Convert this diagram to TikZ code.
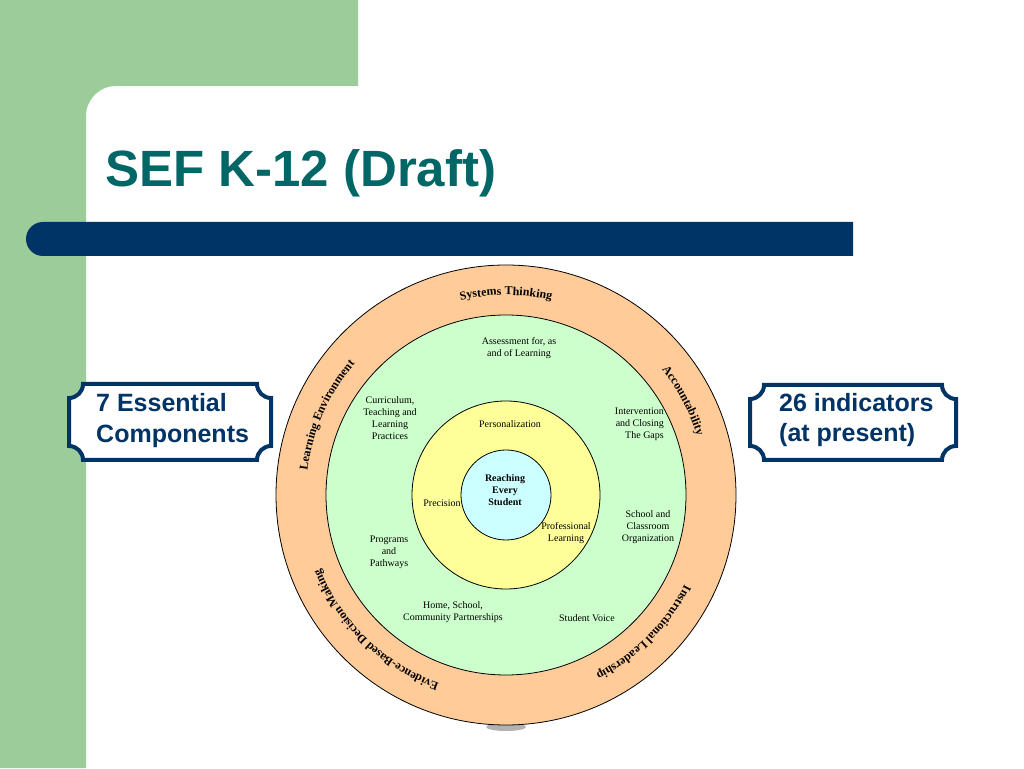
\documentclass[tikz,border=0pt]{standalone}
\usepackage{fontspec}
\setmainfont{Liberation Serif}
\newfontfamily\slidesans{Liberation Sans}
\usetikzlibrary{decorations.text}
\definecolor{greenbg}{RGB}{155,204,153}
\definecolor{navy}{RGB}{0,51,102}
\definecolor{teal}{RGB}{0,102,102}
\definecolor{ringorange}{RGB}{255,204,153}
\definecolor{ringgreen}{RGB}{204,255,204}
\definecolor{ringyellow}{RGB}{255,255,153}
\definecolor{ringblue}{RGB}{204,255,255}
\newcommand\ringlblfont{\fontsize{12}{14}\selectfont\bfseries}
\newcommand\plaque[4]{%
  \draw[callout] (#1+14,#4) -- (#3-14,#4)
    arc[start angle=180,end angle=270,radius=14pt] -- (#3,#2+14)
    arc[start angle=90,end angle=180,radius=14pt] -- (#1+14,#2)
    arc[start angle=0,end angle=90,radius=14pt] -- (#1,#4-14)
    arc[start angle=270,end angle=360,radius=14pt] -- cycle;}
\begin{document}
\begin{tikzpicture}[x=1pt,y=1pt,
  ring/.style={draw=black,line width=0.8pt},
  arclabel/.style={decorate,decoration={text along path,text align=center,text={|\ringlblfont|#1}}},
  inlabel/.style={font=\fontsize{10}{12}\selectfont,align=center,inner sep=0pt},
  callout/.style={draw=navy,line width=4pt,fill=white},
  calltext/.style={font=\slidesans\bfseries\fontsize{25}{30}\selectfont,text=navy,anchor=base west,inner sep=0pt}]
\useasboundingbox (0,0) rectangle (1024,768);
\fill[white] (0,0) rectangle (1024,768);
% green background band
\fill[greenbg] (0,768) -- (358,768) -- (358,682) -- (116,682)
  arc[start angle=90,end angle=180,radius=30pt] -- (86,0) -- (0,0) -- cycle;
% title
\node[font=\slidesans\bfseries\fontsize{51}{60}\selectfont,text=teal,anchor=base west,inner sep=0pt] (title) at (105,581) {SEF K-12 (Draft)};
% blue bar
\fill[navy] (853,546) -- (43,546) arc[start angle=90,end angle=270,radius=17pt] -- (853,512) -- cycle;
% rings
\coordinate (c) at (506,273);
\fill[gray!60] (506,41) ellipse[x radius=20pt,y radius=4pt];
\draw[ring,fill=ringorange] (c) circle[radius=230pt];
\draw[ring,fill=ringgreen] (c) circle[radius=180pt];
\draw[ring,fill=ringyellow] (c) circle[radius=94pt];
\draw[ring,fill=ringblue] (c) circle[radius=45pt];
% ring labels
\path[arclabel=Systems Thinking] (c) ++(130:200pt) arc[start angle=130,end angle=50,radius=200pt];
\path[arclabel=Accountability] (c) ++(60:200pt) arc[start angle=60,end angle=-4,radius=200pt];
\path[arclabel=Instructional Leadership] (c) ++(-2:200pt) arc[start angle=-2,end angle=-88,radius=200pt];
\path[arclabel=Evidence-Based Decision Making] (c) ++(-88:200pt) arc[start angle=-88,end angle=-180,radius=200pt];
\path[arclabel=Learning Environment] (c) ++(202:200pt) arc[start angle=202,end angle=110,radius=200pt];
% inner labels
\node[inlabel] (assess) at (519,420) {Assessment for, as\\and of Learning};
\node[inlabel] (curric) at (390,350) {Curriculum,\\Teaching and\\Learning\\Practices};
\node[inlabel] (person) at (510,344) {Personalization};
\node[inlabel,align=right,anchor=east] (interv) at (664,344) {Intervention\\and Closing\\The Gaps};
\node[inlabel] (precis) at (442,265) {Precision};
\node[inlabel,font=\fontsize{10}{12}\selectfont\bfseries] (reach) at (505,278) {Reaching\\Every\\Student};
\node[inlabel] (prof) at (566,235) {Professional\\Learning};
\node[inlabel] (school) at (648,241) {School and\\Classroom\\Organization};
\node[inlabel] (progr) at (389,216) {Programs\\and\\Pathways};
\node[inlabel] (home) at (453,156) {Home, School,\\Community Partnerships};
\node[inlabel] (voice) at (587,150) {Student Voice};
% callouts
\plaque{69}{308}{271}{384}
\node[calltext] (ess1) at (96,356) {7 Essential};
\node[calltext] (ess2) at (96,325) {Components};
\plaque{750}{308}{956}{383}
\node[calltext] (ind1) at (779,356) {26 indicators};
\node[calltext] (ind2) at (779,326) {(at present)};
\end{tikzpicture}
\end{document}
